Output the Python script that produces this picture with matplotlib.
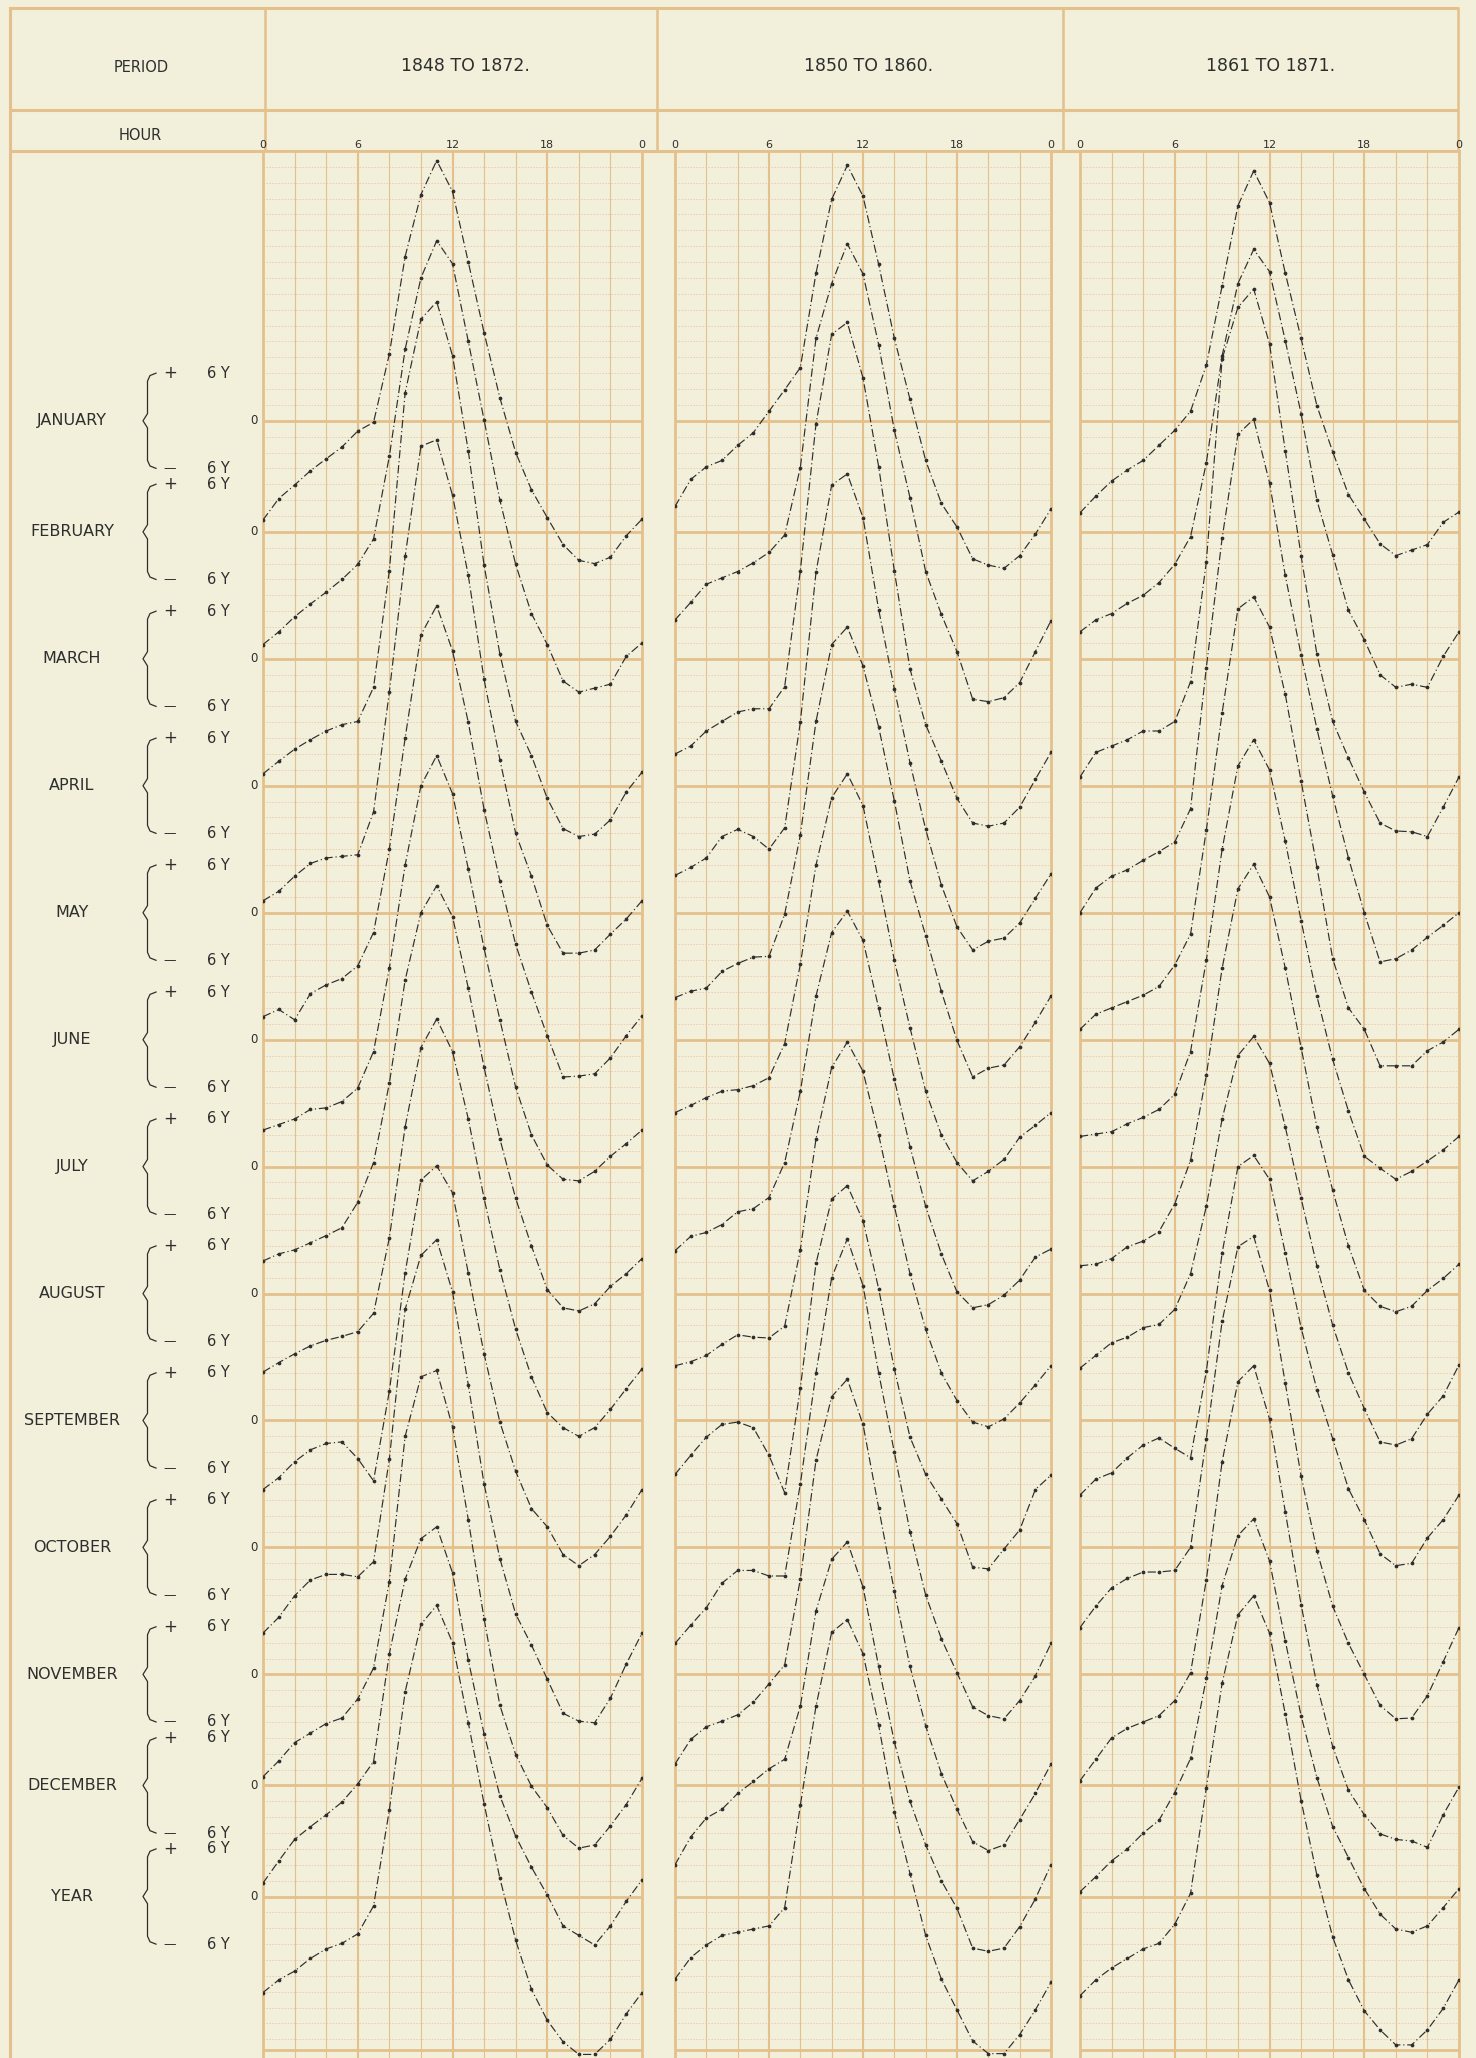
import numpy as np
import matplotlib
matplotlib.use("Agg")
import matplotlib.pyplot as plt

periods = ["1848 TO 1872.", "1850 TO 1860.", "1861 TO 1871."]
months = ["JANUARY", "FEBRUARY", "MARCH", "APRIL", "MAY", "JUNE", "JULY",
          "AUGUST", "SEPTEMBER", "OCTOBER", "NOVEMBER", "DECEMBER", "YEAR"]
hours = np.arange(25)
hour_ticks = [0, 6, 12, 18, 24]
hour_labels = ["0", "6", "12", "18", "0"]
# zero line of each row, in Y counted down from the top of the grid
row_zero = [34, 48, 64, 80, 96, 112, 128, 144, 160, 176, 192, 206, 220]

# hourly values (0h .. 24h) in Y above (+) / below (-) the row's zero line
curves_1848 = [
    [-12.5, -9.8, -8.1, -6.3, -4.8, -3.3, -1.3, -0.2, 8.4, 20.7, 28.5, 32.8, 28.9, 20.0, 11.1, 2.9, -4.0, -8.7, -12.2, -15.6, -17.6, -18.0, -17.2, -14.5, -12.4],
    [-14.2, -12.6, -10.7, -9.1, -7.6, -6.0, -4.1, -0.9, 9.5, 23.0, 32.0, 36.7, 33.8, 24.0, 14.1, 4.0, -4.1, -10.3, -14.2, -18.8, -20.2, -19.7, -19.2, -15.7, -14.0],
    [-14.5, -12.9, -11.4, -10.2, -9.1, -8.3, -7.9, -3.6, 11.1, 33.5, 42.8, 45.0, 38.2, 26.2, 11.8, 0.6, -7.9, -12.2, -17.6, -21.4, -22.4, -22.1, -20.3, -16.8, -14.3],
    [-14.5, -13.3, -11.4, -9.8, -9.1, -8.9, -8.7, -3.3, 11.8, 28.9, 42.8, 43.6, 36.6, 26.5, 13.4, 3.3, -6.0, -11.4, -17.6, -21.1, -21.1, -20.7, -18.7, -16.8, -14.5],
    [-13.1, -12.2, -13.5, -10.2, -9.1, -8.3, -6.7, -2.5, 8.0, 22.0, 35.0, 38.7, 33.0, 24.0, 13.0, 4.0, -4.0, -10.0, -15.5, -20.7, -20.6, -20.3, -18.3, -15.5, -13.0],
    [-11.4, -10.7, -10.0, -8.8, -8.6, -7.8, -6.1, -1.5, 9.0, 22.0, 32.0, 35.8, 31.0, 21.5, 11.5, 2.5, -6.0, -12.0, -15.8, -17.6, -17.8, -16.6, -14.7, -13.1, -11.4],
    [-11.9, -11.0, -10.5, -9.6, -8.7, -7.7, -4.5, 0.5, 10.5, 23.5, 32.0, 35.4, 31.5, 22.5, 12.5, 3.5, -4.0, -10.0, -15.5, -17.8, -18.2, -17.3, -15.1, -13.5, -11.6],
    [-9.9, -8.7, -7.6, -6.6, -5.9, -5.4, -4.8, -2.5, 7.0, 21.0, 31.0, 34.6, 30.5, 22.0, 12.0, 3.0, -4.5, -10.5, -15.0, -16.9, -18.0, -16.9, -14.6, -12.0, -9.5],
    [-8.7, -7.2, -5.2, -3.7, -2.9, -2.7, -4.8, -7.6, 3.7, 18.6, 30.3, 32.1, 28.7, 18.6, 8.4, -0.2, -6.4, -11.1, -13.4, -16.9, -18.3, -16.9, -14.6, -11.9, -8.7],
    [-10.8, -8.8, -6.1, -4.1, -3.4, -3.4, -3.7, -1.8, 11.1, 30.0, 36.8, 38.8, 32.2, 20.5, 8.0, -1.4, -8.4, -12.3, -16.6, -20.9, -21.9, -22.1, -19.0, -14.7, -10.8],
    [-12.9, -10.9, -8.6, -7.4, -6.2, -5.5, -3.1, 0.8, 11.7, 30.0, 37.5, 38.3, 31.2, 19.5, 7.0, -3.9, -10.1, -14.1, -16.8, -20.3, -21.9, -21.5, -19.1, -16.4, -13.1],
    [-12.3, -9.5, -6.8, -5.2, -3.7, -2.1, 0.2, 3.0, 16.6, 26.0, 31.1, 32.6, 26.8, 15.8, 6.5, -1.3, -6.4, -10.3, -13.8, -17.7, -18.9, -20.1, -17.7, -14.6, -11.9],
    [-12.1, -10.5, -9.4, -7.8, -6.6, -5.9, -4.7, -1.2, 10.9, 25.8, 34.3, 36.7, 32.0, 21.9, 11.7, 2.3, -5.5, -11.7, -15.6, -18.3, -19.9, -19.9, -18.0, -14.8, -12.1],
]

curves_1850 = [
    [-10.8, -7.4, -5.8, -5.0, -3.1, -1.5, 1.2, 3.9, 6.7, 18.6, 27.9, 32.2, 28.3, 19.7, 10.4, 2.7, -5.0, -10.4, -13.4, -17.4, -18.2, -18.6, -17.0, -14.3, -11.1],
    [-11.1, -8.9, -6.6, -5.8, -5.0, -3.9, -2.6, -0.4, 8.1, 24.4, 31.3, 36.3, 32.5, 23.6, 12.8, 4.3, -5.0, -10.4, -15.1, -21.1, -21.4, -20.9, -19.0, -15.1, -11.2],
    [-12.0, -11.0, -9.1, -7.9, -6.7, -6.3, -6.3, -3.5, 11.1, 29.6, 40.9, 42.4, 35.4, 24.2, 11.1, -1.3, -8.3, -12.9, -17.6, -20.7, -21.1, -20.7, -18.7, -15.2, -11.8],
    [-11.3, -10.3, -9.1, -6.4, -5.5, -6.4, -8.0, -5.3, 8.0, 26.9, 37.9, 39.3, 33.8, 22.2, 12.2, 2.9, -5.5, -12.5, -17.8, -20.7, -19.6, -19.2, -17.3, -14.2, -11.1],
    [-10.7, -9.9, -9.5, -7.4, -6.4, -5.6, -5.5, -0.2, 9.8, 24.1, 33.8, 36.0, 31.1, 23.4, 14.1, 4.0, -2.9, -9.9, -16.1, -20.7, -19.6, -19.2, -16.9, -13.8, -10.5],
    [-9.2, -8.3, -7.3, -6.5, -6.3, -5.8, -4.8, -0.5, 9.5, 22.0, 30.5, 33.5, 29.5, 20.0, 10.0, 1.5, -6.5, -12.0, -15.5, -17.8, -16.6, -15.1, -12.3, -10.8, -9.2],
    [-10.6, -8.8, -8.3, -7.3, -5.7, -5.3, -3.9, 0.5, 9.5, 21.5, 29.5, 32.2, 28.5, 20.0, 11.0, 2.5, -5.0, -11.0, -15.8, -17.8, -17.4, -16.2, -14.3, -11.4, -10.4],
    [-9.1, -8.6, -7.8, -6.4, -5.2, -5.5, -5.6, -4.1, 5.5, 19.5, 28.5, 31.7, 28.0, 20.0, 11.0, 2.5, -4.5, -10.0, -13.5, -16.2, -16.8, -15.8, -13.8, -11.5, -9.1],
    [-6.8, -4.4, -2.1, -0.5, -0.2, -0.9, -4.4, -9.1, 4.1, 19.8, 27.9, 29.6, 25.2, 16.6, 6.5, -2.1, -6.8, -9.9, -13.0, -18.5, -18.7, -16.2, -13.8, -8.7, -6.9],
    [-12.1, -9.8, -7.6, -4.5, -2.9, -2.9, -3.6, -3.6, 8.0, 22.0, 34.0, 38.9, 33.0, 22.0, 12.0, 2.0, -6.0, -11.5, -15.8, -20.1, -21.2, -21.6, -19.3, -16.2, -12.1],
    [-11.3, -8.2, -6.6, -5.9, -5.1, -3.5, -1.2, 1.2, 12.0, 27.0, 35.0, 37.2, 31.5, 21.0, 10.5, 1.0, -6.5, -12.5, -17.0, -21.1, -22.2, -21.5, -18.3, -15.0, -11.3],
    [-10.0, -6.5, -4.1, -3.0, -1.0, 0.5, 2.1, 3.3, 10.0, 22.0, 28.5, 30.7, 25.0, 15.0, 5.5, -2.0, -7.5, -12.0, -15.5, -20.5, -20.9, -20.5, -17.8, -14.3, -10.0],
    [-10.4, -7.7, -6.1, -4.9, -4.5, -4.1, -3.7, -1.4, 11.5, 24.0, 33.3, 34.9, 30.6, 21.6, 10.7, 2.9, -4.9, -10.4, -14.3, -18.2, -19.8, -19.8, -17.4, -14.3, -10.8],
]

curves_1861 = [
    [-11.6, -9.5, -7.6, -6.2, -5.0, -3.1, -1.2, 1.2, 7.0, 17.0, 27.1, 31.5, 27.5, 18.6, 10.4, 1.9, -3.9, -9.3, -12.4, -15.5, -17.0, -16.3, -15.6, -12.8, -11.5],
    [-12.6, -11.1, -10.3, -9.0, -8.0, -6.4, -4.1, -0.6, 8.7, 22.2, 31.3, 35.6, 32.8, 24.1, 14.9, 4.0, -2.9, -9.9, -13.6, -18.0, -19.6, -19.2, -19.6, -15.7, -12.6],
    [-14.9, -11.8, -11.0, -10.2, -9.1, -9.1, -7.9, -2.9, 12.2, 37.8, 44.3, 46.6, 39.7, 26.2, 13.0, 0.6, -7.9, -12.5, -16.8, -20.7, -21.7, -21.8, -22.4, -18.7, -14.9],
    [-16.0, -12.9, -11.4, -10.6, -9.4, -8.3, -7.1, -2.9, 14.9, 31.2, 44.3, 46.2, 38.2, 26.5, 16.5, 7.2, -1.3, -9.1, -16.0, -22.2, -21.8, -20.7, -19.1, -17.6, -16.0],
    [-14.7, -12.8, -12.0, -11.2, -10.4, -9.3, -6.6, -2.7, 10.4, 25.2, 38.3, 39.8, 36.0, 27.5, 16.6, 5.8, -5.8, -12.0, -14.7, -19.3, -19.3, -19.3, -17.4, -16.3, -14.7],
    [-12.2, -11.9, -11.6, -10.6, -9.8, -8.8, -6.9, -1.5, 10.0, 24.0, 34.5, 37.8, 34.0, 25.0, 15.0, 5.5, -2.5, -9.0, -14.7, -16.2, -17.6, -16.6, -15.3, -13.9, -12.2],
    [-12.5, -12.3, -11.6, -10.1, -9.4, -8.2, -4.7, 0.8, 11.5, 25.0, 35.0, 38.1, 34.0, 25.0, 15.0, 5.0, -3.0, -10.0, -15.6, -17.6, -18.3, -17.6, -15.6, -14.1, -12.3],
    [-9.4, -7.8, -6.2, -5.5, -4.3, -3.9, -2.0, 2.5, 11.0, 22.0, 30.0, 32.4, 29.0, 21.0, 12.0, 3.5, -4.0, -10.0, -14.5, -18.7, -19.1, -18.3, -15.2, -12.9, -9.0],
    [-9.4, -7.4, -6.6, -4.7, -3.1, -2.2, -3.5, -4.7, 6.2, 21.1, 32.0, 33.4, 30.4, 21.1, 11.7, 3.9, -2.3, -8.6, -12.5, -16.8, -18.3, -18.0, -14.8, -12.5, -9.4],
    [-10.1, -7.4, -5.1, -3.9, -3.1, -3.1, -2.9, 0.0, 13.7, 28.5, 37.9, 39.2, 32.4, 20.7, 9.0, -0.4, -7.4, -12.1, -16.0, -19.9, -21.6, -21.5, -18.7, -14.4, -10.1],
    [-13.4, -10.7, -8.0, -6.8, -6.0, -5.2, -3.3, 0.2, 11.9, 26.8, 36.9, 38.9, 32.2, 20.5, 8.8, -1.3, -9.1, -14.6, -17.7, -20.1, -20.8, -21.0, -21.8, -17.7, -14.2],
    [-13.4, -11.5, -9.5, -8.0, -6.0, -4.4, -0.9, 3.4, 13.5, 25.2, 31.5, 33.6, 28.3, 18.2, 8.8, 1.0, -5.2, -9.1, -13.0, -16.2, -18.1, -18.5, -17.7, -15.4, -13.0],
    [-12.5, -10.5, -9.0, -7.8, -6.6, -5.9, -3.5, 0.4, 13.7, 26.9, 35.5, 37.9, 33.2, 23.0, 12.1, 2.7, -5.1, -10.5, -14.4, -16.8, -18.7, -18.7, -16.8, -14.1, -10.5],
]

BG = "#f2efda"
GRID = "#e4c08c"
DOT = "#ecc0a0"
INK = "#2e2e2e"

W, H = 1476, 2058
TOP, BOT = 151, 2058
YMAX = 240.35

def box(x0, y0, x1, y1):
    return [x0 / W, 1 - y1 / H, (x1 - x0) / W, (y1 - y0) / H]

fig = plt.figure(figsize=(W / 100, H / 100), dpi=100, facecolor=BG)

# frame and header
frame = fig.add_axes([0, 0, 1, 1])
frame.set_xlim(0, W)
frame.set_ylim(H, 0)
frame.axis("off")
for y0, x0, x1 in [(8, 10, 1458), (110, 10, 1458), (TOP, 10, 1460)]:
    frame.plot([x0, x1], [y0, y0], color=GRID, lw=2.2, solid_capstyle="butt")
frame.plot([10, 10], [8, H], color=GRID, lw=2.2)
for xv in [265, 657, 1063, 1458]:
    frame.plot([xv, xv], [8, TOP], color=GRID, lw=1.8)
frame.text(141, 68, "PERIOD", ha="center", va="center", fontsize=10.5, color=INK)
frame.text(140, 135, "HOUR", ha="center", va="center", fontsize=10.5, color=INK)
for cx, label in zip([465, 869, 1271], periods):
    frame.text(cx, 66, label, ha="center", va="center", fontsize=12.5, color=INK)

# left column: month names, brackets and scale
side = fig.add_axes(box(10, TOP, 263, BOT))
side.set_xlim(10, 263)
side.set_ylim(YMAX, 0)
side.axis("off")
for name, z in zip(months, row_zero):
    side.text(72, z, name, ha="center", va="center", fontsize=11.5, color=INK)
    side.text(254, z, "0", ha="center", va="center", fontsize=8.5, color=INK)
    side.text(170, z - 6, "+", ha="center", va="center", fontsize=12, color=INK)
    side.text(218, z - 6, "6 Y", ha="center", va="center", fontsize=10.5, color=INK)
    side.text(170, z + 6, "\u2014", ha="center", va="center", fontsize=9, color=INK)
    side.text(218, z + 6, "6 Y", ha="center", va="center", fontsize=10.5, color=INK)
    bx = [156, 150, 147.5, 147.5, 143, 147.5, 147.5, 150, 156]
    by = [z - 6, z - 5.7, z - 5, z - 0.9, z, z + 0.9, z + 5, z + 5.7, z + 6]
    side.plot(bx, by, color=INK, lw=0.9)

# three panels of curves
panel_x = [(263, 642), (675, 1051), (1080, 1459)]
for (x0, x1), curves in zip(panel_x, [curves_1848, curves_1850, curves_1861]):
    ax = fig.add_axes(box(x0, TOP, x1, BOT))
    ax.set_facecolor(BG)
    ax.set_xlim(0, 24)
    ax.set_ylim(YMAX, 0)
    for yy in range(2, 240, 2):
        if yy not in row_zero:
            ax.axhline(yy, color=DOT, lw=0.6, ls=(0, (1.6, 2.0)), zorder=1)
    for hh in range(2, 24, 2):
        ax.axvline(hh, color=GRID, lw=1.5 if hh % 6 == 0 else 0.8, zorder=1.5)
    for z in row_zero:
        ax.axhline(z, color=GRID, lw=2.0, zorder=2)
    ax.axhline(239.3, color=GRID, lw=2.0, zorder=2)
    for sp in ax.spines.values():
        sp.set_color(GRID)
        sp.set_linewidth(2.0)
    ax.spines["bottom"].set_visible(False)
    for z, vals in zip(row_zero, curves):
        ax.plot(hours, z - np.array(vals), color=INK, lw=0.85,
                ls=(0, (7, 2.4, 1, 2.4)), marker="o", ms=1.7,
                mfc=INK, mec=INK, zorder=5)
    ax.xaxis.tick_top()
    ax.set_xticks(hour_ticks, hour_labels)
    ax.tick_params(axis="x", length=0, pad=1, labelsize=8, labelcolor=INK)
    ax.set_yticks([])

fig.savefig("out.png", dpi=100, facecolor=BG)
